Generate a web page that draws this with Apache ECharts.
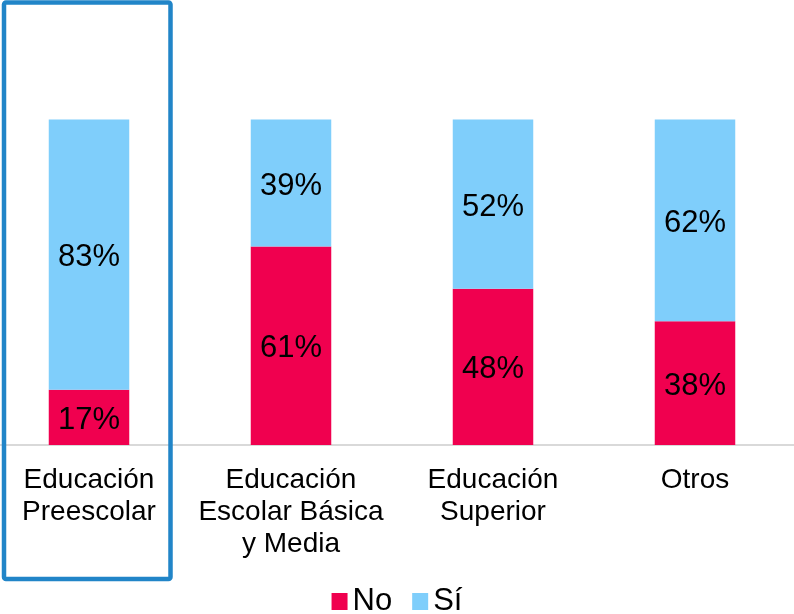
<!DOCTYPE html>
<html>
<head>
<meta charset="utf-8">
<script src="https://cdn.jsdelivr.net/npm/echarts@6/dist/echarts.min.js"></script>
<style>html,body{margin:0;padding:0;background:#fff}#c{width:794px;height:614px}</style>
</head>
<body>
<div id="c"></div>
<script>
var categories = ['Educación\nPreescolar', 'Educación\nEscolar Básica\ny Media', 'Educación\nSuperior', 'Otros'];
var seriesNames = ['No', 'Sí'];
var noValues = [17, 61, 48, 38];
var siValues = [83, 39, 52, 62];

var chart = echarts.init(document.getElementById('c'), null, {renderer: 'canvas'});
var font = 'Liberation Sans, Arial, sans-serif';
var labelCfg = {
  show: true, position: 'inside', offset: [0, 3], color: '#000', fontSize: 31, fontFamily: font,
  formatter: function (p) { return p.value + '%'; }
};
chart.setOption({
  animation: false,
  textStyle: {fontFamily: font},
  grid: {left: -12, top: 119.5, width: 808, bottom: 169, containLabel: false, outerBoundsMode: 'none'},
  xAxis: {
    type: 'category', data: categories,
    axisLine: {show: true, lineStyle: {color: '#d9d9d9', width: 2}},
    axisTick: {show: false},
    axisLabel: {interval: 0, color: '#000', fontSize: 28, lineHeight: 32, margin: 19, fontFamily: font}
  },
  yAxis: {type: 'value', min: 0, max: 100, show: false, splitLine: {show: false}},
  legend: {
    top: 586, left: 'center', padding: 0, itemWidth: 16, itemHeight: 17, itemGap: 20,
    icon: 'rect', textStyle: {fontSize: 31, color: '#000', fontFamily: font},
    data: seriesNames
  },
  series: [
    {name: seriesNames[0], type: 'bar', stack: 't', data: noValues, barWidth: 80.5,
     itemStyle: {color: '#F0004F'}, label: labelCfg},
    {name: seriesNames[1], type: 'bar', stack: 't', data: siValues, barWidth: 80.5,
     itemStyle: {color: '#7FCEFB'}, label: labelCfg}
  ],
  graphic: [{
    type: 'rect', shape: {x: 4, y: 2.5, width: 166.5, height: 576.5, r: 2},
    style: {fill: 'none', stroke: '#2185C8', lineWidth: 4.5}, z: 100
  }]
});
</script>
</body>
</html>
